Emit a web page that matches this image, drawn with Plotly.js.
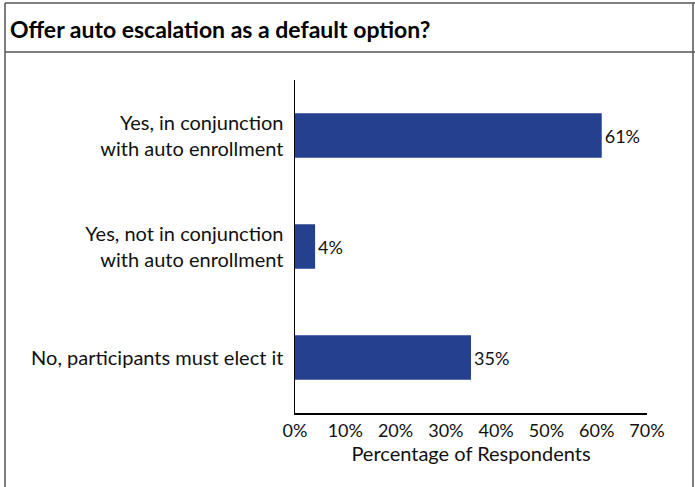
<!DOCTYPE html>
<html>
<head>
<meta charset="utf-8">
<script src="https://cdn.plot.ly/plotly-3.0.1.min.js"></script>
<style>html,body{margin:0;padding:0;background:#fff;}#chart{width:695px;height:487px;}</style>
</head>
<body>
<div id="chart"></div>
<script>
const categories = [
  "Yes, in conjunction<br>with auto enrollment",
  "Yes, not in conjunction<br>with auto enrollment",
  "No, participants must elect it"
];
const values = [61, 4, 35];
const xTickValues = [0, 10, 20, 30, 40, 50, 60, 70];
const xTickLabels = ["0%", "10%", "20%", "30%", "40%", "50%", "60%", "70%"];

const W = 695, H = 487;
const M = {l: 295, r: 48, t: 80, b: 74};
const px = x => (x - M.l) / (W - M.l - M.r);
const py = y => (H - M.b - y) / (H - M.t - M.b);
const FONT = "Lato, 'Noto Sans', sans-serif";
const FS = 20;
const FS_NUM = 18;

const trace = {
  type: 'bar',
  orientation: 'h',
  y: categories,
  x: values,
  marker: {color: '#25408F'},
  width: 0.4,
  text: values.map(v => v + '%'),
  textposition: 'outside',
  textfont: {family: FONT, size: FS_NUM, color: '#111'},
  cliponaxis: false,
  hoverinfo: 'none'
};

const border = {color: '#555', width: 1.5};
const layout = {
  width: W, height: H,
  margin: M,
  paper_bgcolor: '#fff', plot_bgcolor: '#fff',
  font: {family: FONT, size: FS, color: '#111'},
  showlegend: false,
  bargap: 0.6,
  title: {
    text: '<b>Offer auto escalation as a default option?</b>',
    font: {family: FONT, size: 23, color: '#000'},
    xref: 'container', yref: 'container',
    x: 10 / W, xanchor: 'left',
    y: 1 - 30 / H, yanchor: 'middle'
  },
  xaxis: {
    range: [0, 70],
    tickvals: xTickValues,
    ticktext: xTickLabels,
    showgrid: false, zeroline: false,
    showline: true, linecolor: '#000', linewidth: 1.5,
    ticks: '', ticklen: 0,
    ticklabelstandoff: 1,
    tickfont: {family: FONT, size: FS_NUM, color: '#111'},
    title: {text: 'Percentage of Respondents', font: {family: FONT, size: FS, color: '#111'}, standoff: 5},
    fixedrange: true
  },
  yaxis: {
    autorange: 'reversed',
    showgrid: false, zeroline: false,
    showline: true, linecolor: '#000', linewidth: 1.5,
    ticks: '', ticklen: 0,
    ticklabelstandoff: 6,
    tickfont: {family: FONT, size: FS, color: '#111'},
    fixedrange: true
  },
  shapes: [
    {type: 'line', xref: 'paper', yref: 'paper', x0: px(5), x1: px(W), y0: py(3), y1: py(3), line: border},
    {type: 'line', xref: 'paper', yref: 'paper', x0: px(5), x1: px(W), y0: py(52), y1: py(52), line: border},
    {type: 'line', xref: 'paper', yref: 'paper', x0: px(5), x1: px(5), y0: py(3), y1: py(H), line: border},
    {type: 'line', xref: 'paper', yref: 'paper', x0: px(693), x1: px(693), y0: py(3), y1: py(H), line: border}
  ]
};

Plotly.newPlot('chart', [trace], layout, {displayModeBar: false, staticPlot: true});
</script>
</body>
</html>
